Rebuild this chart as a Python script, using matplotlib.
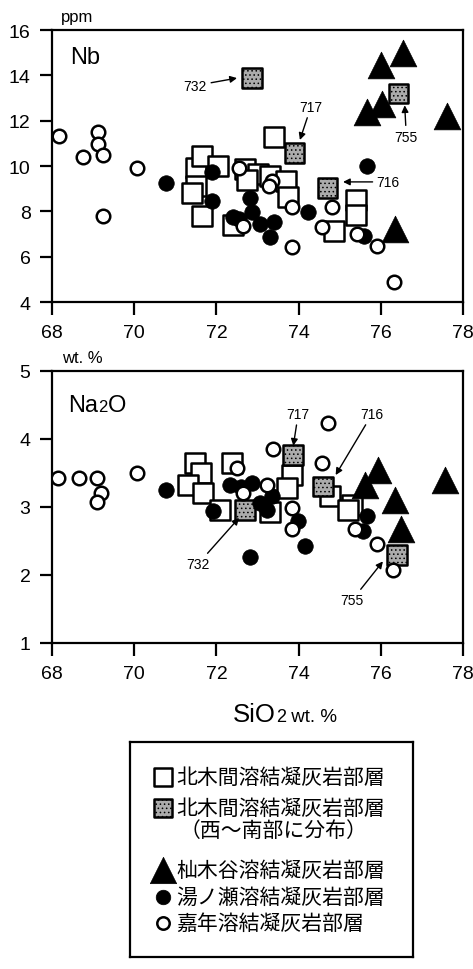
import matplotlib
matplotlib.use("Agg")
import matplotlib.pyplot as plt

plt.rcParams["font.family"] = ["Liberation Sans", "DejaVu Sans"]
JP = ["Noto Sans CJK JP", "DejaVu Sans"]

# ---- data: Nb (ppm) vs SiO2 ----
sq_nb_x = [71.5, 71.65, 72.05, 71.5, 71.4, 71.65, 72.7, 73.0, 73.3, 73.7, 73.75, 72.4, 73.4, 74.85, 75.4, 75.4, 72.75]
sq_nb_y = [9.9, 10.45, 10.0, 9.1, 8.8, 7.8, 9.85, 9.65, 9.55, 9.35, 8.65, 7.4, 11.3, 7.15, 8.5, 7.85, 9.4]
gsq_nb_x = [72.87, 73.9, 74.7, 76.43]
gsq_nb_y = [13.88, 10.57, 9.03, 13.2]
tri_nb_x = [76.0, 76.54, 75.66, 76.03, 77.6, 76.35]
tri_nb_y = [14.45, 15.0, 12.4, 12.75, 12.2, 7.2]
dot_nb_x = [70.77, 71.9, 71.9, 72.4, 72.82, 72.87, 73.05, 73.4, 73.3, 74.23, 75.66, 75.6, 72.55]
dot_nb_y = [9.25, 9.74, 8.45, 7.75, 8.6, 7.95, 7.45, 7.55, 6.87, 7.97, 10.0, 6.93, 7.65]
circ_nb_x = [68.17, 68.75, 69.12, 69.12, 69.24, 69.24, 70.07, 72.55, 73.35, 73.28, 73.84, 72.65, 73.84, 74.82, 74.57, 75.42, 75.9, 76.33]
circ_nb_y = [11.32, 10.38, 11.5, 10.97, 10.47, 7.8, 9.9, 9.92, 9.32, 9.1, 8.19, 7.35, 6.43, 8.19, 7.33, 7.0, 6.47, 4.88]

# ---- data: Na2O (wt.%) vs SiO2 ----
sq_na_x = [71.48, 71.62, 71.3, 71.67, 72.09, 72.38, 73.3, 73.84, 73.72, 74.76, 75.3, 75.2]
sq_na_y = [3.64, 3.5, 3.32, 3.2, 2.96, 3.64, 2.92, 3.47, 3.28, 3.16, 3.03, 2.96]
gsq_na_x = [73.86, 74.6, 72.7, 76.4]
gsq_na_y = [3.76, 3.3, 2.96, 2.29]
tri_na_x = [75.93, 75.62, 76.35, 76.5, 77.56]
tri_na_y = [3.54, 3.33, 3.1, 2.67, 3.4]
dot_na_x = [70.77, 71.92, 72.33, 72.87, 73.06, 73.35, 73.23, 73.99, 74.16, 72.82, 75.66, 75.57, 72.6]
dot_na_y = [3.25, 2.94, 3.33, 3.36, 3.06, 3.16, 2.96, 2.8, 2.43, 2.26, 2.87, 2.65, 3.3]
circ_na_x = [68.15, 68.66, 69.09, 69.2, 69.09, 70.07, 73.38, 72.5, 72.65, 73.23, 73.84, 73.84, 74.57, 74.72, 75.37, 75.9, 76.3]
circ_na_y = [3.43, 3.43, 3.43, 3.2, 3.08, 3.5, 3.85, 3.58, 3.2, 3.32, 2.99, 2.67, 3.64, 4.23, 2.67, 2.45, 2.07]

x_ticks = [68, 70, 72, 74, 76, 78]
nb_ticks = [4, 6, 8, 10, 12, 14, 16]
na_ticks = [1, 2, 3, 4, 5]

# sample labels: (text, arrow head, text position, ha)
nb_samples = [("732", (72.5, 13.88), (71.77, 13.55), "right"),
              ("717", (74.03, 11.15), (74.3, 12.62), "center"),
              ("716", (75.08, 9.3), (75.9, 9.3), "left"),
              ("755", (76.58, 12.68), (76.62, 11.3), "center")]
na_samples = [("717", (73.87, 3.9), (73.99, 4.37), "center"),
              ("716", (74.9, 3.47), (75.79, 4.37), "center"),
              ("732", (72.55, 2.84), (71.55, 2.16), "center"),
              ("755", (76.05, 2.2), (75.3, 1.63), "center")]

legend_labels = ["北木間溶結凝灰岩部層",
                 "北木間溶結凝灰岩部層\n（西～南部に分布）",
                 "杣木谷溶結凝灰岩部層",
                 "湯ノ瀬溶結凝灰岩部層",
                 "嘉年溶結凝灰岩部層"]

SQ = dict(marker="s", s=200, facecolor="white", edgecolor="black", linewidths=1.8)
GSQ = dict(marker="s", s=200, facecolor="#ababab", edgecolor="black", linewidths=1.8, hatch="....")
TRI = dict(marker="^", s=370, facecolor="black", edgecolor="black", linewidths=0.5)
DOT = dict(marker="o", s=125, facecolor="black", edgecolor="black", linewidths=0.5)
CIRC = dict(marker="o", s=95, facecolor="white", edgecolor="black", linewidths=1.8)

plt.rcParams["hatch.color"] = "#767676"
plt.rcParams["hatch.linewidth"] = 0.6

fig = plt.figure(figsize=(4.73, 9.70), dpi=100)
ax1 = fig.add_axes([0.110, 0.6876, 0.869, 0.2804])
ax2 = fig.add_axes([0.110, 0.3361, 0.869, 0.2804])


def draw(ax, d):
    ax.scatter(d[0], d[1], zorder=2, **SQ)
    ax.scatter(d[2], d[3], zorder=3, **GSQ)
    ax.scatter(d[4], d[5], zorder=4, **TRI)
    ax.scatter(d[6], d[7], zorder=5, **DOT)
    ax.scatter(d[8], d[9], zorder=6, **CIRC)


draw(ax1, [sq_nb_x, sq_nb_y, gsq_nb_x, gsq_nb_y, tri_nb_x, tri_nb_y,
           dot_nb_x, dot_nb_y, circ_nb_x, circ_nb_y])
draw(ax2, [sq_na_x, sq_na_y, gsq_na_x, gsq_na_y, tri_na_x, tri_na_y,
           dot_na_x, dot_na_y, circ_na_x, circ_na_y])

for ax, yt in [(ax1, nb_ticks), (ax2, na_ticks)]:
    ax.set_xlim(68, 78)
    ax.set_ylim(yt[0], yt[-1])
    ax.set_xticks(x_ticks)
    ax.set_yticks(yt)
    ax.tick_params(direction="out", length=9, width=1.6, labelsize=14, pad=6.5)
    for s in ax.spines.values():
        s.set_linewidth(1.6)

arrow = dict(arrowstyle="-|>", color="black", lw=1.0, mutation_scale=10, shrinkA=1, shrinkB=0)
for ax, samples in [(ax1, nb_samples), (ax2, na_samples)]:
    for txt, head, pos, ha in samples:
        ax.annotate(txt, xy=head, xytext=pos, ha=ha, va="center", fontsize=10,
                    arrowprops=arrow, zorder=10)

fig.canvas.draw()
renderer = fig.canvas.get_renderer()


def chain(x0, y0, parts, ha_center=False):
    # parts: list of (text, size); placed on a common baseline in figure coords
    fw = fig.bbox.width
    texts = []
    x = x0
    for s, size in parts:
        t = fig.text(x, y0, s, fontsize=size, ha="left", va="baseline")
        w = t.get_window_extent(renderer).width / fw
        texts.append((t, w))
        x += w
    if ha_center:
        shift = (x - x0) / 2
        for t, w in texts:
            px, py = t.get_position()
            t.set_position((px - shift, py))


# panel titles and units
ax1.text(0.06, 1.05, "ppm", transform=ax1.transAxes, ha="center", va="center", fontsize=12)
ax1.text(0.045, 0.90, "Nb", transform=ax1.transAxes, ha="left", va="center", fontsize=17)
ax2.text(0.073, 1.05, "wt. %", transform=ax2.transAxes, ha="center", va="center", fontsize=12)
chain(0.144, 0.575, [("Na", 17), ("2", 12), ("O", 17)])

# x axis label
chain(0.602, 0.256, [("SiO", 18.5), ("2", 13), (" wt. %", 13.5)], ha_center=True)

# legend box
lax = fig.add_axes([0.2748, 0.0124, 0.598, 0.2216])
lax.set_xlim(0, 283)
lax.set_ylim(215, 0)
lax.set_xticks([])
lax.set_yticks([])
for s in lax.spines.values():
    s.set_linewidth(1.6)

leg_styles = [SQ, GSQ, TRI, DOT, CIRC]
leg_sizes = [170, 170, 360, 110, 80]
leg_y = [35, 66, 128, 155, 181]
for style, size, y, lab in zip(leg_styles, leg_sizes, leg_y, legend_labels):
    st = dict(style)
    st["s"] = size
    lax.scatter([33], [y], clip_on=False, **st)
    lines = lab.split("\n")
    lax.text(46, y, lines[0], ha="left", va="center", fontsize=15, family=JP)
    if len(lines) > 1:
        lax.text(50, y + 22, lines[1], ha="left", va="center", fontsize=15, family=JP)

fig.savefig("out.png", dpi=100)
